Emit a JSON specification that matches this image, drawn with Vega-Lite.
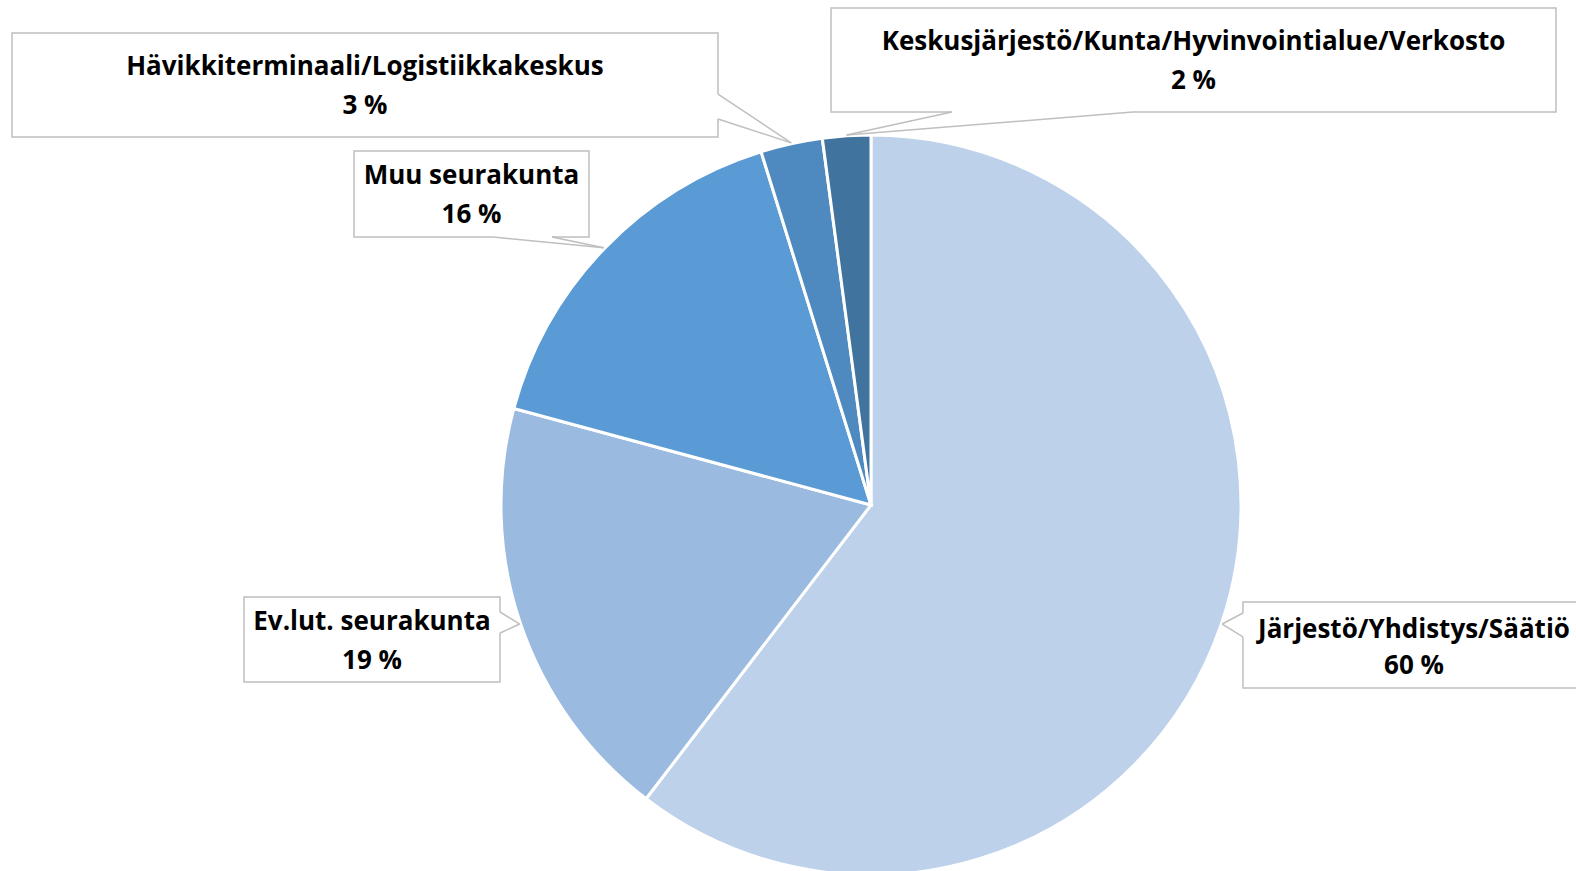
{
  "$schema": "https://vega.github.io/schema/vega-lite/v6.json",
  "width": 1576,
  "height": 871,
  "padding": 0,
  "autosize": {"type": "none"},
  "background": "white",
  "config": {"view": {"stroke": null}},
  "data": {
    "values": [
      {"i": 1, "cat": "Järjestö/Yhdistys/Säätiö", "value": 60.4},
      {"i": 2, "cat": "Ev.lut. seurakunta", "value": 18.8},
      {"i": 3, "cat": "Muu seurakunta", "value": 16.0},
      {"i": 4, "cat": "Hävikkiterminaali/Logistiikkakeskus", "value": 2.7},
      {"i": 5, "cat": "Keskusjärjestö/Kunta/Hyvinvointialue/Verkosto", "value": 2.1}
    ]
  },
  "transform": [
    {"joinaggregate": [{"op": "sum", "field": "value", "as": "total"}]},
    {"window": [{"op": "sum", "field": "value", "as": "cum"}], "sort": [{"field": "i"}], "frame": [null, 0]},
    {"calculate": "(datum.cum - datum.value / 2) / datum.total * 2 * PI", "as": "mid"},
    {"calculate": "100.5 * sin(datum.mid)", "as": "tipx"},
    {"calculate": "100.5 * cos(datum.mid)", "as": "tipy"},
    {"calculate": "format(round(datum.value), 'd') + ' %'", "as": "pct"},
    {"calculate": "[100.81, -169.92, -140.11, -232.79, -10.84][datum.i - 1]", "as": "bx1"},
    {"calculate": "[193.5, -100.54, -76.42, -41.46, 185.64][datum.i - 1]", "as": "bx2"},
    {"calculate": "[-26.29, -24.93, 95.93, 127.91, 134.69][datum.i - 1]", "as": "by1"},
    {"calculate": "[-49.59, -47.97, 72.63, 99.73, 106.5][datum.i - 1]", "as": "by2"},
    {"calculate": "[147.15, -135.23, -108.27, -137.13, 87.4][datum.i - 1]", "as": "tx"},
    {"calculate": "[-33.88, -31.71, 89.16, 118.7, 125.47][datum.i - 1]", "as": "ty1"},
    {"calculate": "[-43.63, -42.28, 78.59, 108.13, 114.91][datum.i - 1]", "as": "ty2"},
    {"calculate": "[100.81, -100.54, -102.44, -41.46, 21.95][datum.i - 1]", "as": "w1x"},
    {"calculate": "[-29.27, -29.0, 72.63, 111.38, 106.5][datum.i - 1]", "as": "w1y"},
    {"calculate": "[100.81, -100.54, -86.45, -41.46, 71.0][datum.i - 1]", "as": "w2x"},
    {"calculate": "[-35.77, -34.69, 72.63, 104.61, 106.5][datum.i - 1]", "as": "w2y"}
  ],
  "layer": [
    {
      "mark": {"type": "arc", "radius": 370, "stroke": "white", "strokeWidth": 3},
      "encoding": {
        "theta": {"field": "value", "type": "quantitative", "stack": true},
        "order": {"field": "i", "type": "quantitative"},
        "color": {
          "field": "cat",
          "type": "nominal",
          "legend": null,
          "scale": {
            "domain": ["Järjestö/Yhdistys/Säätiö", "Ev.lut. seurakunta", "Muu seurakunta", "Hävikkiterminaali/Logistiikkakeskus", "Keskusjärjestö/Kunta/Hyvinvointialue/Verkosto"],
            "range": ["#BDD1EA", "#9BBAE0", "#5B9BD5", "#4E8AC0", "#41739F"]
          }
        },
        "x": {"datum": 0, "type": "quantitative", "axis": null, "scale": {"domain": [-236.04, 191.06], "nice": false, "zero": false}},
        "y": {"datum": 0, "type": "quantitative", "axis": null, "scale": {"domain": [-99.19, 136.86], "nice": false, "zero": false}}
      }
    },
    {
      "mark": {"type": "rect", "fill": "white", "stroke": "#BFBFBF", "strokeWidth": 1.5},
      "encoding": {
        "x": {"field": "bx1", "type": "quantitative"},
        "x2": {"field": "bx2"},
        "y": {"field": "by1", "type": "quantitative"},
        "y2": {"field": "by2"}
      }
    },
    {
      "mark": {"type": "rule", "color": "white", "strokeWidth": 3, "strokeCap": "butt"},
      "encoding": {
        "x": {"field": "w1x", "type": "quantitative"},
        "y": {"field": "w1y", "type": "quantitative"},
        "x2": {"field": "w2x"},
        "y2": {"field": "w2y"}
      }
    },
    {
      "mark": {"type": "rule", "color": "#BFBFBF", "strokeWidth": 1.5},
      "encoding": {
        "x": {"field": "w1x", "type": "quantitative"},
        "y": {"field": "w1y", "type": "quantitative"},
        "x2": {"field": "tipx"},
        "y2": {"field": "tipy"}
      }
    },
    {
      "mark": {"type": "rule", "color": "#BFBFBF", "strokeWidth": 1.5},
      "encoding": {
        "x": {"field": "w2x", "type": "quantitative"},
        "y": {"field": "w2y", "type": "quantitative"},
        "x2": {"field": "tipx"},
        "y2": {"field": "tipy"}
      }
    },
    {
      "mark": {"type": "text", "font": "Open Sans", "fontWeight": "bold", "fontSize": 26, "color": "black", "align": "center", "baseline": "middle"},
      "encoding": {
        "x": {"field": "tx", "type": "quantitative"},
        "y": {"field": "ty1", "type": "quantitative"},
        "text": {"field": "cat"}
      }
    },
    {
      "mark": {"type": "text", "font": "Open Sans", "fontWeight": "bold", "fontSize": 26, "color": "black", "align": "center", "baseline": "middle"},
      "encoding": {
        "x": {"field": "tx", "type": "quantitative"},
        "y": {"field": "ty2", "type": "quantitative"},
        "text": {"field": "pct"}
      }
    }
  ]
}
